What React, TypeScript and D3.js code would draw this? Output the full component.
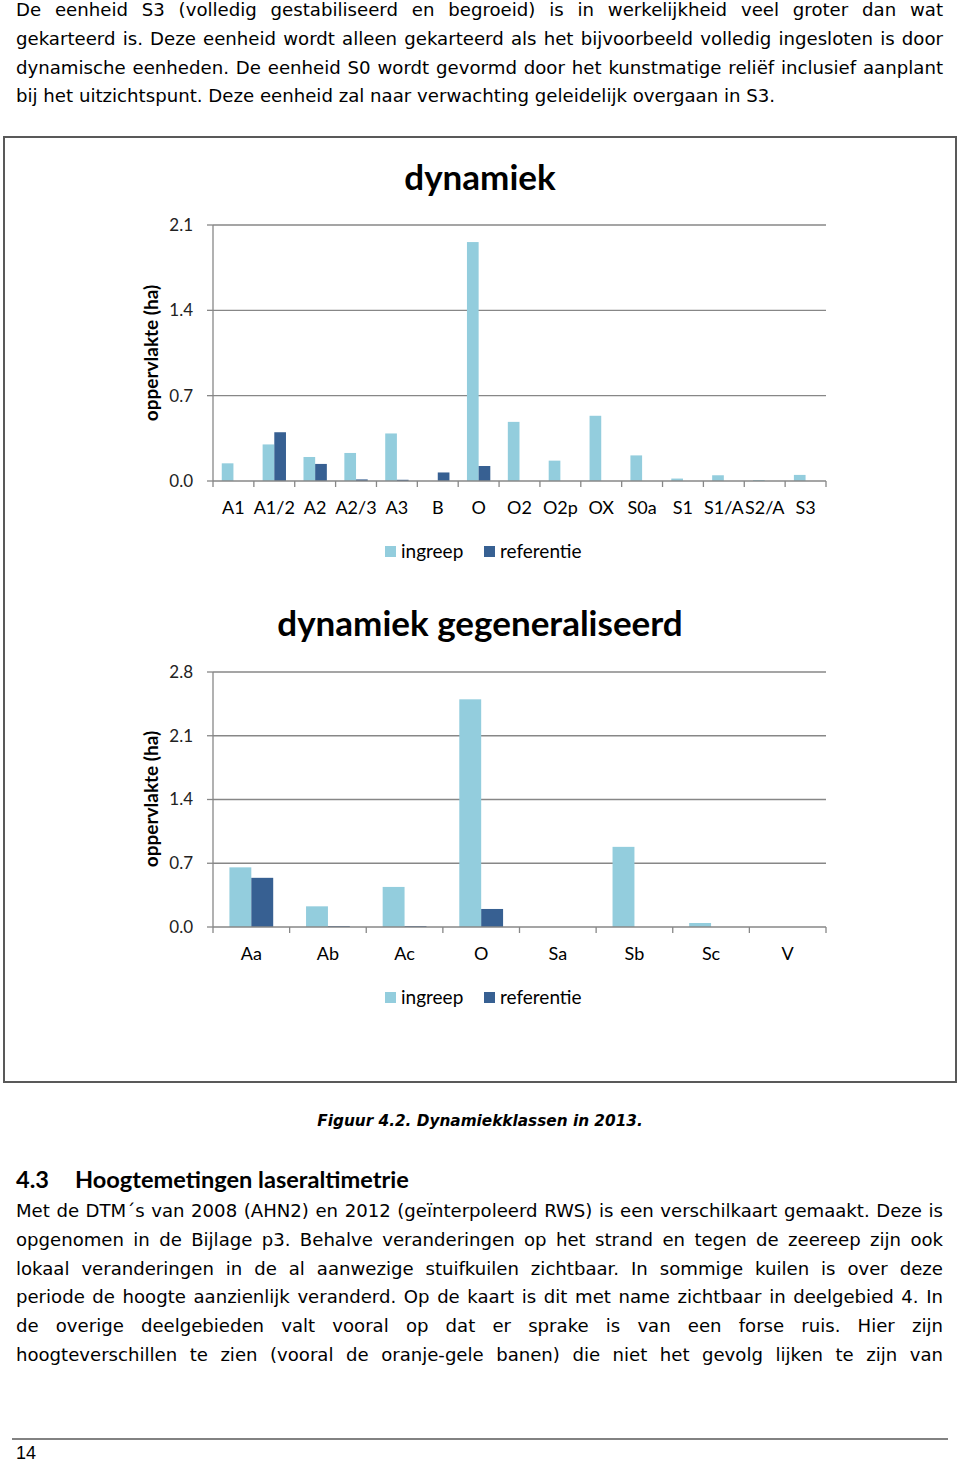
import * as d3 from "d3";

// ---- data ----
const seriesNames = ["ingreep", "referentie"];
const seriesColors = ["#93CDDD", "#376092"];

const dynCategories = ["A1", "A1/2", "A2", "A2/3", "A3", "B", "O", "O2", "O2p", "OX", "S0a", "S1", "S1/A", "S2/A", "S3"];
const dynIngreep = [0.145, 0.3, 0.197, 0.23, 0.39, 0, 1.96, 0.485, 0.167, 0.535, 0.21, 0.02, 0.047, 0.008, 0.05];
const dynReferentie = [0, 0.4, 0.14, 0.013, 0.01, 0.07, 0.123, 0, 0, 0, 0, 0, 0, 0, 0];
const dynTicks = [0, 0.7, 1.4, 2.1];

const genCategories = ["Aa", "Ab", "Ac", "O", "Sa", "Sb", "Sc", "V"];
const genIngreep = [0.655, 0.227, 0.44, 2.5, 0, 0.88, 0.044, 0];
const genReferentie = [0.54, 0.01, 0.01, 0.198, 0, 0, 0, 0];
const genTicks = [0, 0.7, 1.4, 2.1, 2.8];

const introLines = [
  "De eenheid S3 (volledig gestabiliseerd en begroeid) is in werkelijkheid veel groter dan wat",
  "gekarteerd is. Deze eenheid wordt alleen gekarteerd als het bijvoorbeeld volledig ingesloten is door",
  "dynamische eenheden. De eenheid S0 wordt gevormd door het kunstmatige reliëf inclusief aanplant",
  "bij het uitzichtspunt. Deze eenheid zal naar verwachting geleidelijk overgaan in S3.",
];
const sectionLines = [
  "Met de DTM´s van 2008 (AHN2) en 2012 (geïnterpoleerd RWS) is een verschilkaart gemaakt. Deze is",
  "opgenomen in de Bijlage p3. Behalve veranderingen op het strand en tegen de zeereep zijn ook",
  "lokaal veranderingen in de al aanwezige stuifkuilen zichtbaar. In sommige kuilen is over deze",
  "periode de hoogte aanzienlijk veranderd. Op de kaart is dit met name zichtbaar in deelgebied 4. In",
  "de overige deelgebieden valt vooral op dat er sprake is van een forse ruis. Hier zijn",
  "hoogteverschillen te zien (vooral de oranje-gele banen) die niet het gevolg lijken te zijn van",
];

const BODY_FONT = "'DejaVu Sans', sans-serif";
const CHART_FONT = "Lato, 'Open Sans', sans-serif";

let ctx: CanvasRenderingContext2D | null = null;
function measure(text: string, font: string) {
  if (!ctx) ctx = document.createElement("canvas").getContext("2d");
  ctx!.font = font;
  return ctx!.measureText(text).width;
}

// biggest size at which every line fits its width
function fitSize(lines: string[], width: number, weight = 400, style = "normal", family = BODY_FONT) {
  const ws = lines.map((l) => measure(l, `${style} ${weight} 100px ${family}`));
  return 100 * width / (d3.max(ws) || 1);
}

function Line({ text, x0, x1, y, size, justify = true, weight = 400, style = "normal", family = BODY_FONT }: any) {
  const font = `${style} ${weight} ${size}px ${family}`;
  const words = text.split(" ");
  const widths = words.map((w: string) => measure(w, font));
  const total = d3.sum(widths);
  const space = measure(" ", font);
  const gap = justify && words.length > 1 ? (x1 - x0 - total) / (words.length - 1) : space;
  let x = x0;
  return (
    <text y={y} fontFamily={family} fontSize={size} fontWeight={weight} fontStyle={style} fill="#000">
      {words.map((w: string, i: number) => {
        const tx = x;
        x += widths[i] + gap;
        return <tspan key={i} x={tx}>{w}</tspan>;
      })}
    </text>
  );
}

function BarChart({ title, categories, ingreep, referentie, ticks, base, top }: any) {
  const x = d3.scaleBand<string>().domain(categories).range([213, 826]).paddingInner(0).paddingOuter(0);
  const sub = d3.scaleBand<string>().domain(seriesNames).range([0, x.bandwidth()]).paddingInner(0).paddingOuter(0.75);
  const y = d3.scaleLinear().domain([0, ticks[ticks.length - 1]]).range([base, top]);
  const fmt = d3.format(".1f");
  const values = [ingreep, referentie];
  const grid = "#878787";
  const edges = [...categories.map((c: string) => x(c)!), 826];

  return (
    <g fontFamily={CHART_FONT}>
      <text x={480} y={base - 303} dy="0.35em" textAnchor="middle" fontSize={35} fontWeight={700} fill="#000">
        {title}
      </text>
      <text
        transform={`translate(151,${base - 128}) rotate(-90)`}
        dy="0.35em"
        textAnchor="middle"
        fontSize={19}
        fontWeight={700}
        fill="#000"
      >
        oppervlakte (ha)
      </text>
      {ticks.map((t: number) => (
        <g key={t}>
          {t > 0 && <line x1={213} x2={826} y1={y(t)} y2={y(t)} stroke={grid} strokeWidth={1.3} />}
          <line x1={207} x2={213} y1={y(t)} y2={y(t)} stroke={grid} strokeWidth={1.3} />
          <text x={193} y={y(t)} dy="0.35em" textAnchor="end" fontSize={17} fill="#222">
            {fmt(t)}
          </text>
        </g>
      ))}
      <line x1={213} x2={213} y1={top} y2={base} stroke={grid} strokeWidth={1.3} />
      {categories.map((c: string, i: number) =>
        seriesNames.map((s, j) => {
          const v = values[j][i];
          if (!v) return null;
          return (
            <rect
              key={c + s}
              x={x(c)! + sub(s)!}
              y={y(v)}
              width={sub.bandwidth()}
              height={base - y(v)}
              fill={seriesColors[j]}
            />
          );
        })
      )}
      <line x1={213} x2={826} y1={base} y2={base} stroke={grid} strokeWidth={1.3} />
      {edges.map((e: number, i: number) => (
        <line key={i} x1={e} x2={e} y1={base} y2={base + 6} stroke={grid} strokeWidth={1.3} />
      ))}
      {categories.map((c: string) => (
        <text key={c} x={x(c)! + x.bandwidth() / 2} y={base + 27} dy="0.35em" textAnchor="middle" fontSize={18} fill="#000">
          {c}
        </text>
      ))}
      <g>
        <rect x={385} y={base + 65} width={11} height={11} fill={seriesColors[0]} />
        <text x={401} y={base + 70} dy="0.35em" fontSize={19} fill="#000">ingreep</text>
        <rect x={484} y={base + 65} width={11} height={11} fill={seriesColors[1]} />
        <text x={500} y={base + 70} dy="0.35em" fontSize={19} fill="#000">referentie</text>
      </g>
    </g>
  );
}

export default function App() {
  const introSize = Math.min(
    fitSize(introLines.slice(0, 3), 915),
    fitSize([introLines[3]], 785)
  );
  const sectionSize = Math.min(fitSize(sectionLines, 915), introSize);
  const captionSize = fitSize(["Figuur 4.2. Dynamiekklassen in 2013."], 326, 700, "italic");
  const headSize = fitSize(["Hoogtemetingen laseraltimetrie"], 334, 700, "normal", CHART_FONT);

  return (
    <div>
      <style>{`body{margin:0}`}</style>
      <svg width={960} height={1464} style={{ display: "block", background: "#fff" }}>
        {introLines.map((l, i) => (
          <Line key={i} text={l} x0={16} x1={943} y={16 + i * 28.8} size={introSize} justify={i < introLines.length - 1} />
        ))}

        <rect x={4} y={137} width={952} height={945} fill="none" stroke="#595959" strokeWidth={2} />

        <BarChart
          title="dynamiek"
          categories={dynCategories}
          ingreep={dynIngreep}
          referentie={dynReferentie}
          ticks={dynTicks}
          base={481}
          top={225}
        />
        <BarChart
          title="dynamiek gegeneraliseerd"
          categories={genCategories}
          ingreep={genIngreep}
          referentie={genReferentie}
          ticks={genTicks}
          base={927}
          top={672}
        />

        <text x={480} y={1126} textAnchor="middle" fontFamily={BODY_FONT} fontSize={captionSize} fontWeight={700} fontStyle="italic" fill="#000">
          Figuur 4.2. Dynamiekklassen in 2013.
        </text>

        <g fontFamily={CHART_FONT} fontWeight={700} fontSize={headSize} fill="#000">
          <text x={16} y={1188}>4.3</text>
          <text x={75} y={1188}>Hoogtemetingen laseraltimetrie</text>
        </g>

        {sectionLines.map((l, i) => (
          <Line key={i} text={l} x0={16} x1={943} y={1217 + i * 28.8} size={sectionSize} />
        ))}

        <line x1={12} x2={948} y1={1439} y2={1439} stroke="#595959" strokeWidth={1.5} />
        <text x={16} y={1459} fontFamily="'Liberation Sans', Arial, sans-serif" fontSize={18} fill="#000">14</text>
      </svg>
    </div>
  );
}
